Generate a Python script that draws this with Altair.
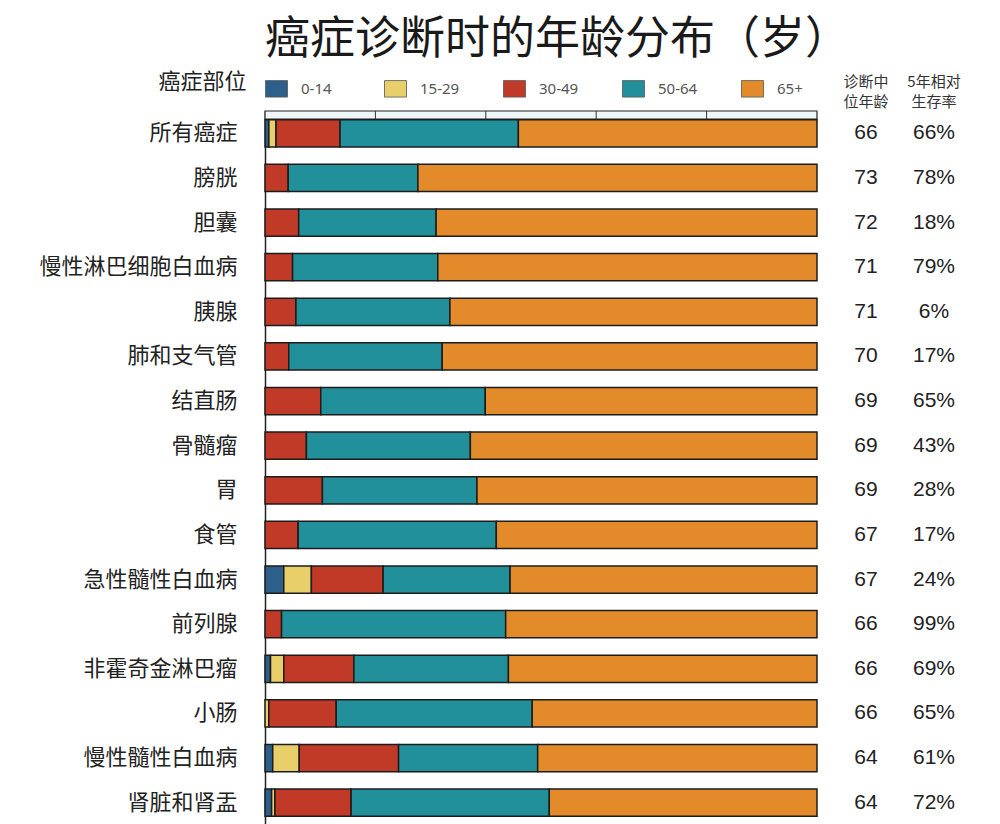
import altair as alt
import pandas as pd

# ---------------- data ----------------
categories = ["所有癌症", "膀胱", "胆囊", "慢性淋巴细胞白血病", "胰腺", "肺和支气管",
              "结直肠", "骨髓瘤", "胃", "食管", "急性髓性白血病", "前列腺",
              "非霍奇金淋巴瘤", "小肠", "慢性髓性白血病", "肾脏和肾盂"]
groups = ["0-14", "15-29", "30-49", "50-64", "65+"]

age_0_14 = [0.7, 0, 0, 0, 0, 0, 0, 0, 0, 0, 3.4, 0, 1.0, 0, 1.4, 1.2]
age_15_29 = [1.3, 0, 0, 0, 0, 0, 0, 0, 0, 0, 5.0, 0, 2.4, 0.7, 4.8, 0.6]
age_30_49 = [11.6, 4.2, 6.1, 5.0, 5.6, 4.3, 10.1, 7.5, 10.4, 6.0, 13.0, 3.0, 12.7, 12.2, 18.0, 13.8]
age_50_64 = [32.3, 23.5, 24.9, 26.3, 27.9, 27.8, 29.8, 29.7, 28.0, 35.9, 23.0, 40.6, 28.0, 35.5, 25.2, 35.9]
age_65_up = [54.1, 72.3, 69.0, 68.7, 66.5, 67.9, 60.1, 62.8, 61.6, 58.1, 55.6, 56.4, 55.9, 51.6, 50.6, 48.5]

median_age = [66, 73, 72, 71, 71, 70, 69, 69, 69, 67, 67, 66, 66, 66, 64, 64]
survival_5y = [66, 78, 18, 79, 6, 17, 65, 43, 28, 17, 24, 99, 69, 65, 61, 72]

strip_ticks = [0.2, 0.4, 0.6, 0.8]

colors = ["#2d5f8b", "#e8cf6a", "#c03a27", "#21909a", "#e38b2b"]

# ---------------- tables ----------------
series = [age_0_14, age_15_29, age_30_49, age_50_64, age_65_up]
rows = []
for i, c in enumerate(categories):
    for j, g in enumerate(groups):
        v = series[j][i]
        if v > 0:
            rows.append({"cat": c, "group": g, "order": j, "pct": v})
df = pd.DataFrame(rows)

info = pd.DataFrame({
    "cat": categories,
    "median": [str(m) for m in median_age],
    "surv": [f"{s}%" for s in survival_5y],
})
strip_df = pd.DataFrame({"a": [0.0], "b": [1.0]})
ticks_df = pd.DataFrame({"t": strip_ticks})

H = 714
CJK = "Noto Sans CJK SC"
ysc = alt.Scale(paddingInner=0.39, paddingOuter=0.195)
xsc = alt.Scale(domain=[0, 1], nice=False, zero=True)

bars = alt.Chart(df).mark_bar(stroke="#1c1c1c", strokeWidth=1.5).encode(
    x=alt.X("pct:Q", stack="normalize", axis=None, scale=xsc),
    y=alt.Y("cat:N", sort=categories, scale=ysc,
            axis=alt.Axis(title="癌症部位", titleAngle=0, titleAlign="right",
                          titleBaseline="middle", titleX=-19, titleY=-30,
                          titleFont=CJK, titleFontSize=22, titleFontWeight="normal",
                          titleColor="#222", labelFont=CJK, labelFontSize=22,
                          labelColor="#222", labelPadding=28, labelLimit=400,
                          ticks=False, domainColor="#222", domainWidth=1.5)),
    color=alt.Color("group:N", scale=alt.Scale(domain=groups, range=colors),
                    legend=alt.Legend(title=None, orient="none", legendX=0, legendY=-34,
                                      direction="horizontal", columns=5, gridAlign="all",
                                      columnPadding=41,
                                      symbolType="M-1,-0.75L1,-0.75L1,0.75L-1,0.75Z",
                                      symbolSize=484, symbolStrokeColor="#555",
                                      symbolStrokeWidth=0.8, symbolOpacity=1,
                                      labelFont="Noto Sans", labelFontSize=15,
                                      labelColor="#555", labelOffset=13)),
    order=alt.Order("order:Q"),
)

strip = alt.Chart(strip_df).mark_rect(fill="#eef6f8", stroke="#222", strokeWidth=1.2).encode(
    x=alt.X("a:Q", scale=xsc, axis=None), x2="b:Q",
    y=alt.value(0), y2=alt.value(8),
)
strip_rules = alt.Chart(ticks_df).mark_rule(color="#333", strokeWidth=1).encode(
    x=alt.X("t:Q", scale=xsc, axis=None), y=alt.value(0), y2=alt.value(8),
)

left = alt.layer(strip, strip_rules, bars).properties(width=552, height=H)


def column(field, header, w):
    return alt.Chart(info).mark_text(font="Liberation Sans", fontSize=21, color="#222").encode(
        y=alt.Y("cat:N", sort=categories, scale=ysc, axis=None),
        text=alt.Text(f"{field}:N"),
    ).properties(
        width=w, height=H,
        title=alt.TitleParams(header, font=CJK, fontSize=15, fontWeight="normal",
                              color="#333", anchor="middle", baseline="bottom",
                              lineHeight=20, offset=-14),
    )


med = column("median", ["诊断中", "位年龄"], 98)
surv = column("surv", ["5年相对", "生存率"], 38)

chart = alt.hconcat(left, med, surv, spacing=0, bounds="flush").properties(
    title=alt.TitleParams("癌症诊断时的年龄分布（岁）", font=CJK, fontSize=45,
                          fontWeight="normal", color="#1a1a1a", anchor="start",
                          frame="group", baseline="bottom", offset=-38),
    padding={"left": 30, "top": 10, "right": 5, "bottom": 0},
    background="white",
).configure_view(stroke=None)

chart.save("out.html", embed_options={"renderer": "svg", "actions": False})
